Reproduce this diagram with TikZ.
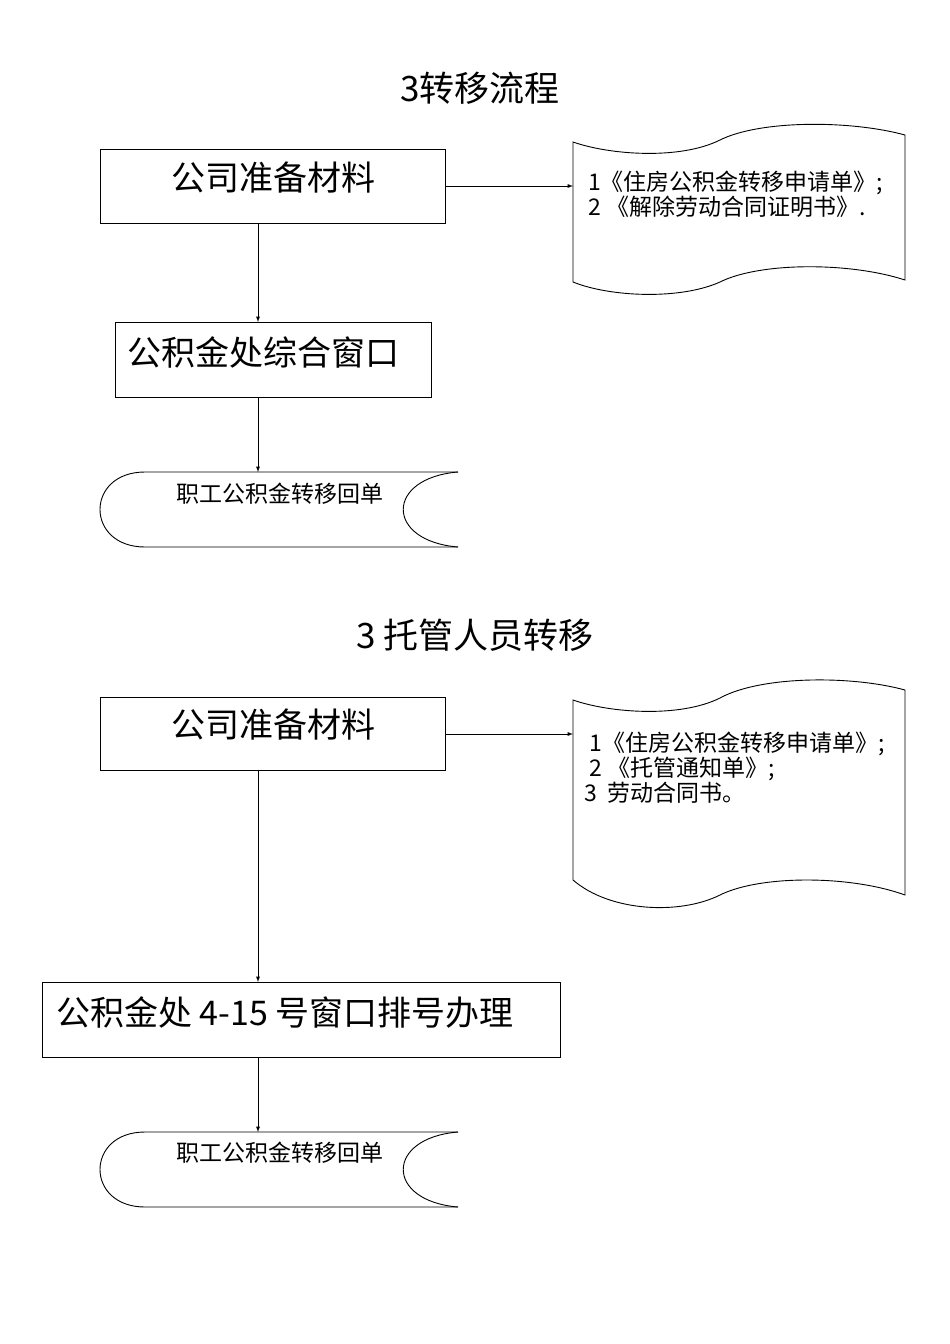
\documentclass[tikz,border=0pt]{standalone}
\usepackage{fontspec}
\setmainfont{Noto Sans CJK SC}
\begin{document}
\begin{tikzpicture}[x=1pt,y=-1pt,
  ln/.style={draw=black,line width=0.9pt},
  arr/.style={ln,-{latex}},
  ttl/.style={font=\fontsize{35}{40}\selectfont},
  big/.style={font=\fontsize{34}{40}\selectfont},
  small/.style={font=\fontsize{23}{25}\selectfont}]
\useasboundingbox (0,0) rectangle (950,1344);
\node[ttl] (t1) at (480,88) {3转移流程};
\draw[ln] (100,149) rectangle (445,223);
\node[big] (b1) at (273,178) {公司准备材料};
\coordinate (b1r) at (445,186); \coordinate (tp1) at (573,186);
\draw[arr] (b1r) -- (tp1);
\draw[ln] (573,142) .. controls (610,155) and (680,160) .. (720,140) .. controls (760,120) and (850,120) .. (905,135)
  -- (905,280) .. controls (850,262) and (760,262) .. (720,282) .. controls (680,300) and (610,297) .. (573,282) -- cycle;
\node[small,anchor=west,align=left,inner sep=0pt] (l1) at (588,194) {1《住房公积金转移申请单》;\\2 《解除劳动合同证明书》.};
\coordinate (b1b) at (258,223); \coordinate (b2t) at (258,322);
\draw[arr] (b1b) -- (b2t);
\draw[ln] (115,322) rectangle (431,397);
\node[big,anchor=west,inner sep=0pt] (b2) at (127,352) {公积金处综合窗口};
\coordinate (b2b) at (258,397); \coordinate (s1t) at (258,472);
\draw[arr] (b2b) -- (s1t);
\draw[ln] (458,472) -- (145,472) .. controls (85,472) and (85,547) .. (145,547) -- (458,547);
\draw[ln] (458,472) .. controls (385,478) and (385,541) .. (458,547);
\node[small] (s1) at (280,494) {职工公积金转移回单};
\node[ttl] (t2) at (475,635) {3 托管人员转移};
\draw[ln] (100,697) rectangle (445,770);
\node[big] (b3) at (273,725) {公司准备材料};
\coordinate (b3r) at (445,734); \coordinate (tp2) at (573,734);
\draw[arr] (b3r) -- (tp2);
\draw[ln] (573,700) .. controls (610,713) and (680,718) .. (720,698) .. controls (760,676) and (850,675) .. (905,690)
  -- (905,895) .. controls (850,875) and (760,875) .. (720,895) .. controls (680,915) and (610,912) .. (573,880) -- cycle;
\node[small,anchor=west,align=left,inner sep=0pt] (l2) at (584,768) {\ 1《住房公积金转移申请单》;\\\ 2 《托管通知单》;\\3\ \ 劳动合同书。};
\coordinate (b3b) at (258,770); \coordinate (b4t) at (258,982);
\draw[arr] (b3b) -- (b4t);
\draw[ln] (42,982) rectangle (560,1057);
\node[big,anchor=west,inner sep=0pt] (b4) at (56,1012) {公积金处 4-15 号窗口排号办理};
\coordinate (b4b) at (258,1057); \coordinate (s2t) at (258,1132);
\draw[arr] (b4b) -- (s2t);
\draw[ln] (458,1132) -- (145,1132) .. controls (85,1132) and (85,1207) .. (145,1207) -- (458,1207);
\draw[ln] (458,1132) .. controls (385,1138) and (385,1201) .. (458,1207);
\node[small] (s2) at (280,1153) {职工公积金转移回单};
\end{tikzpicture}
\end{document}
